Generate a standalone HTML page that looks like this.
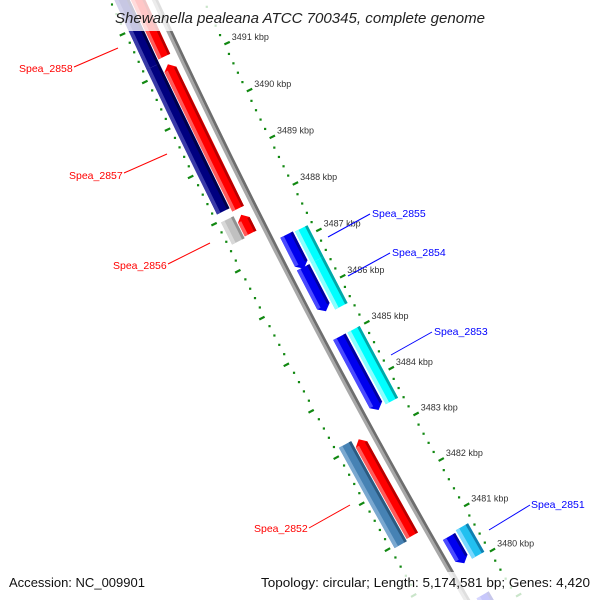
<!DOCTYPE html>
<html><head><meta charset="utf-8"><style>
html,body{margin:0;padding:0;background:#fff;width:600px;height:600px;overflow:hidden;}
svg{display:block;font-family:"Liberation Sans",sans-serif;overflow:hidden;}
</style></head><body>
<svg id="map" width="600" height="600" viewBox="0 0 600 600" xmlns="http://www.w3.org/2000/svg">
<g id="rings"></g>
<g id="backbone"></g>
<g id="genes"></g>
<g id="ticklabels"></g>
<g font-size="10.5">
<line x1="74" y1="67" x2="118" y2="48" stroke="#f00"/>
<text x="19" y="72" fill="#f00">Spea_2858</text>
<line x1="124" y1="173" x2="167" y2="154" stroke="#f00"/>
<text x="69" y="179" fill="#f00">Spea_2857</text>
<line x1="168" y1="264" x2="210" y2="243" stroke="#f00"/>
<text x="113" y="269" fill="#f00">Spea_2856</text>
<line x1="309" y1="528" x2="350" y2="505" stroke="#f00"/>
<text x="254" y="532" fill="#f00">Spea_2852</text>
<line x1="328" y1="237" x2="370" y2="214" stroke="#00f"/>
<text x="372" y="217" fill="#00f">Spea_2855</text>
<line x1="348" y1="276" x2="390" y2="253" stroke="#00f"/>
<text x="392" y="256" fill="#00f">Spea_2854</text>
<line x1="391" y1="355" x2="432" y2="332" stroke="#00f"/>
<text x="434" y="335" fill="#00f">Spea_2853</text>
<line x1="489" y1="530" x2="530" y2="505" stroke="#00f"/>
<text x="531" y="508" fill="#00f">Spea_2851</text>
</g>
<rect x="113" y="0" width="374" height="31" fill="#fff" fill-opacity="0.78"/>
<text x="300" y="23" text-anchor="middle" font-size="14.5" font-style="italic" fill="#222" textLength="370" lengthAdjust="spacingAndGlyphs">Shewanella pealeana ATCC 700345, complete genome</text>
<rect x="3" y="572" width="147" height="28" fill="#fff" fill-opacity="0.78"/>
<rect x="255" y="572" width="345" height="28" fill="#fff" fill-opacity="0.78"/>
<text x="9" y="587" font-size="12.5" fill="#111" textLength="136" lengthAdjust="spacingAndGlyphs">Accession: NC_009901</text>
<text x="261" y="587" font-size="12.5" fill="#111" textLength="329" lengthAdjust="spacingAndGlyphs">Topology: circular; Length: 5,174,581 bp; Genes: 4,420</text>
</svg>
<script>
// gene data (kbp)
const geneIds    = ["2858","2858b","navyA","navyB","2856","redS","2855","2854","cyanA","cyanB","2853","cyan2853","2852","red2852","2851","sky2851","blueBot"];
const geneStart  = [3491.28,3488.06,3491.2,3488.14,3487.5,3487.53,3486.47,3485.55,3486.5,3485.5,3483.41,3483.44,3480.96,3481.0,3480.05,3480.05,3478.0];
const geneEnd    = [3494.0,3491.12,3492.65,3491.2,3487.97,3487.93,3487.2,3486.5,3487.18,3486.5,3485.0,3485.0,3483.14,3483.1,3480.64,3480.68,3479.35];
const geneStrand = [1,1,0,0,0,1,-1,-1,0,0,-1,0,0,1,-1,0,-1];
const geneTrack  = ["red","red","navy","navy","navy","red","blue","blue","cyan","cyan","blue","cyan","navy","red","blue","cyan","blue"];
const geneColor  = ["red","red","navy","navy","gray","red","blue","blue","cyan","cyan","blue","cyan","steel","red","blue","sky","blue"];
const tickStartKbp = 3477;
const tickEndKbp = 3494;
const tickLabelsKbp = [3491,3490,3489,3488,3487,3486,3485,3484,3483,3482,3481,3480];

const NS="http://www.w3.org/2000/svg";
const C={x:6658,y:-3001}, R=7162;
function P(b,d){const ph=(150.06+(b-3480)*0.419)*Math.PI/180;const r=R-d;return [C.x+r*Math.cos(ph),C.y+r*Math.sin(ph)];}
const TR={red:[-22,-9],navy:[-37,-23],blue:[9,23],cyan:[25,39]};
const COL={red:["#ff5a5a","#ff0000","#b80000"],navy:["#3a3aa8","#000080","#00004a"],gray:["#d8d8d8","#c0c0c0","#909090"],
 blue:["#4a4aff","#0000ee","#0000a0"],cyan:["#8affff","#00ffff","#00a8a8"],steel:["#7aa8d0","#4682b4","#2c5a80"],sky:["#7ad8ff","#22c0f0","#1080b0"]};
function poly(parent,pts,fill,name){const p=document.createElementNS(NS,"polygon");
p.setAttribute("points",pts.map(q=>q[0].toFixed(1)+","+q[1].toFixed(1)).join(" "));
p.setAttribute("fill",fill);


parent.appendChild(p);return p;}

// rings
const rings=document.getElementById("rings");
[[44,6],[-41,-6]].forEach(([d,len])=>{
 for(let i=Math.round(tickStartKbp*5);i<=Math.round(tickEndKbp*5);i++){
  const b=i/5;
  if(i%5===0){const a=P(b,d),c=P(b,d+len);const l=document.createElementNS(NS,"line");
   l.setAttribute("x1",a[0]);l.setAttribute("y1",a[1]);l.setAttribute("x2",c[0]);l.setAttribute("y2",c[1]);
   l.setAttribute("stroke","#118811");l.setAttribute("stroke-width","2.2");
   
   
   rings.appendChild(l);}
  else{const a=P(b,d);const r=document.createElementNS(NS,"rect");
   r.setAttribute("x",a[0]-1);r.setAttribute("y",a[1]-1);r.setAttribute("width",2.2);r.setAttribute("height",2.2);r.setAttribute("fill","#118811");
   
   
   rings.appendChild(r);}
 }});
// tick labels
const tl=document.getElementById("ticklabels");
tickLabelsKbp.forEach(k=>{const a=P(k,50);const t=document.createElementNS(NS,"text");
 t.setAttribute("x",(a[0]+2).toFixed(1));t.setAttribute("y",(a[1]-2).toFixed(1));t.setAttribute("font-size","9");t.setAttribute("fill","#333");
 t.textContent=k+" kbp";
 
 
 tl.appendChild(t);});
// backbone
const bb=document.getElementById("backbone");
function band(parent,b1,b2,d1,d2,fill,name){const pts=[];const n=Math.max(2,Math.ceil((b2-b1)/0.5));
 for(let i=0;i<=n;i++)pts.push(P(b1+(b2-b1)*i/n,d1));for(let i=n;i>=0;i--)pts.push(P(b1+(b2-b1)*i/n,d2));return poly(parent,pts,fill,name);}
band(bb,3476,3495,-3,0,"#a8a8a8","backbone-light");
band(bb,3476,3495,0,2.8,"#6e6e6e","backbone-dark");
// genes
const gg=document.getElementById("genes");
geneIds.forEach((id,i)=>{
 const [d1,d2]=TR[geneTrack[i]];const c=COL[geneColor[i]];const b1=geneStart[i],b2=geneEnd[i];const s=geneStrand[i];
 const h=0.11,dm=(d1+d2)/2,w=d2-d1;
 let pts,bs=b1,be=b2;
 if(s===1){be=b2-h;pts=[P(b1,d1),P(be,d1),P(b2,dm),P(be,d2),P(b1,d2)];}
 else if(s===-1){bs=b1+h;pts=[P(b2,d1),P(bs,d1),P(b1,dm),P(bs,d2),P(b2,d2)];}
 else pts=[P(b1,d1),P(b2,d1),P(b2,d2),P(b1,d2)];
 poly(gg,pts,c[1],"gene-"+id);
 band(gg,bs,be,d1,d1+w*0.28,c[0],"gene-"+id+"-highlight");
 band(gg,bs,be,d2-w*0.2,d2,c[2],"gene-"+id+"-shadow");
});
</script>
</body></html>
